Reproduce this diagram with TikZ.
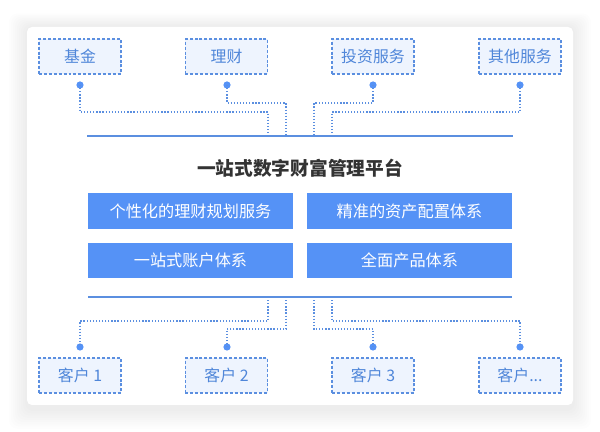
\documentclass[tikz,border=0pt]{standalone}
\usepackage{fontspec}
\newfontfamily\cjk{Noto Sans CJK SC}
\usetikzlibrary{positioning}
\definecolor{lineblue}{HTML}{5B8FE0}
\definecolor{boxfill}{HTML}{EEF4FE}
\definecolor{mainblue}{HTML}{5592F6}
\definecolor{labelblue}{HTML}{4F86D9}
\definecolor{titlegray}{HTML}{333333}

\begin{document}
\begin{tikzpicture}[x=0.025cm,y=-0.025cm]
\tikzstyle{every node}=[font=\cjk, inner sep=0pt]
\tikzstyle{outbox}=[draw=lineblue, fill=boxfill, dash pattern=on 2.1pt off 1.4pt,
  line width=0.9pt, minimum width=2.05cm, minimum height=0.875cm,
  text=labelblue, font=\cjk\fontsize{11.3pt}{13pt}\selectfont]
\tikzstyle{mainbox}=[fill=mainblue, minimum width=5.125cm, minimum height=0.89cm,
  text=white, font=\cjk\fontsize{11.5pt}{13pt}\selectfont]
\tikzstyle{pin}=[circle, fill=mainblue, minimum size=0.18cm]
\tikzstyle{link}=[lineblue, line width=0.8pt, dash pattern=on 0.9pt off 1.3pt]
\tikzstyle{bar}=[lineblue, line width=0.8pt]
\useasboundingbox (0,0) rectangle (600,432);
% card and its shadow
\fill[white] (0,0) rectangle (600,432);
\foreach \s in {1,...,9}
  \fill[black, opacity=0.007, rounded corners=6pt] (27-2*\s,27-1.5*\s) rectangle (573+2*\s,409+2.2*\s);
\fill[white, rounded corners=3.5pt] (27,27) rectangle (573,405);
% top row
\node[outbox] (a1) at (80,56.5) {基金};
\node[outbox] (a2) at (226.5,56.5) {理财};
\node[outbox] (a3) at (373,56.5) {投资服务};
\node[outbox] (a4) at (520,56.5) {其他服务};
\foreach \i/\x in {1/80, 2/227, 3/373, 4/520}
  \node[pin] (p\i) at (\x,85) {};
\coordinate (tl) at (87,136);
\coordinate (tr) at (513,136);
\draw[bar] (tl) -- (tr);
\foreach \i/\x/\y in {1/268/112, 2/286/103, 3/314/103, 4/332/112} {
  \coordinate (t\i) at (\x,136);
  \draw[link] (p\i.center) |- (\x,\y) -- (t\i);
}
% platform
\node[text=titlegray, font=\cjk\bfseries\fontsize{13.3pt}{15pt}\selectfont] (title) at (300,168) {一站式数字财富管理平台};
\node[mainbox] (m1) at (190.5,211) {个性化的理财规划服务};
\node[mainbox] (m2) at (409.5,211) {精准的资产配置体系};
\node[mainbox] (m3) at (190.5,260.5) {一站式账户体系};
\node[mainbox] (m4) at (409.5,260.5) {全面产品体系};
% bottom row
\coordinate (bl) at (88,297);
\coordinate (br) at (512,297);
\draw[bar] (bl) -- (br);
\node[outbox] (c1) at (80,375.5) {客户 1};
\node[outbox] (c2) at (226.5,375.5) {客户 2};
\node[outbox] (c3) at (373,375.5) {客户 3};
\node[outbox] (c4) at (520,375.5) {客户...};
\foreach \i/\x in {1/80, 2/227, 3/373, 4/520}
  \node[pin] (q\i) at (\x,347) {};
\foreach \i/\x/\y in {1/268/321, 2/286/329, 3/314/329, 4/332/321} {
  \coordinate (b\i) at (\x,297);
  \draw[link] (b\i) -- (\x,\y) -| (q\i.center);
}
\end{tikzpicture}
\end{document}
